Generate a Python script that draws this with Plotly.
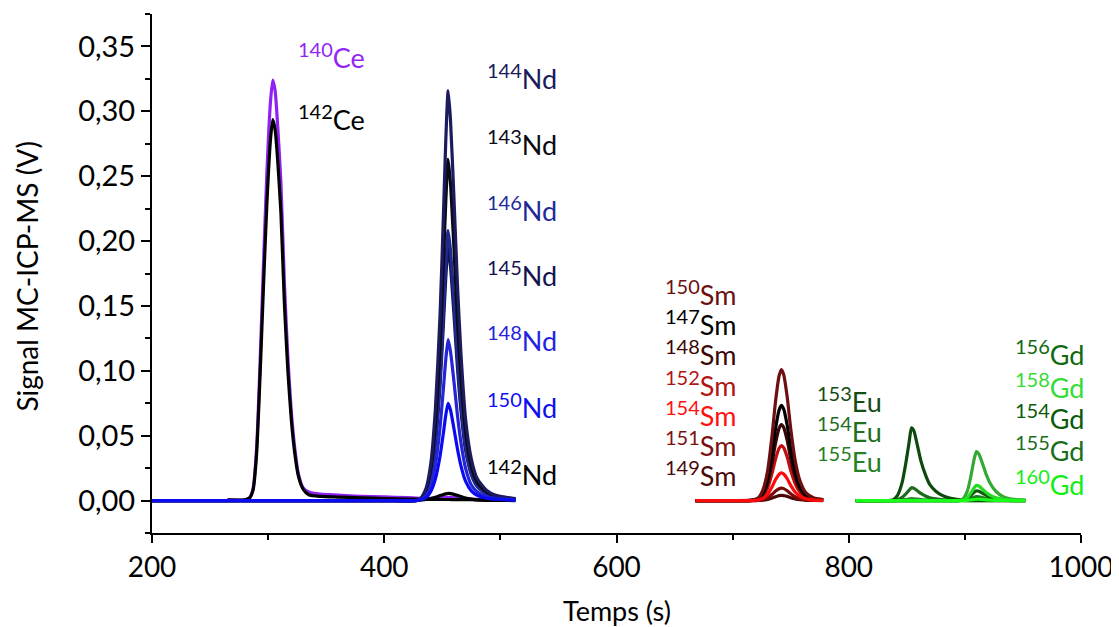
import plotly.graph_objects as go

# ---------------- data ----------------
# Ce group
t_ce = [265, 280, 284, 287, 290, 293, 296, 299, 302, 304, 306, 308, 311, 314, 317, 320, 323, 326, 330,
        335, 345, 360, 380, 400, 420, 432, 440, 448, 455, 462, 470, 480, 495, 513]
ce140 = [0.0005, 0.0006, 0.002, 0.009, 0.039, 0.105, 0.182, 0.254, 0.307, 0.324, 0.316, 0.292, 0.245, 0.168,
         0.11, 0.068, 0.04, 0.021, 0.01, 0.0066, 0.005, 0.0042, 0.0033, 0.0028, 0.0022, 0.0017, 0.0018, 0.0022,
         0.0024, 0.0021, 0.0015, 0.001, 0.0007, 0.0005]
ce142 = [0.0005, 0.0006, 0.002, 0.008, 0.035, 0.095, 0.165, 0.23, 0.278, 0.2936, 0.286, 0.265, 0.222, 0.152,
         0.10, 0.062, 0.036, 0.019, 0.009, 0.0045, 0.0032, 0.0027, 0.0021, 0.0016, 0.0012, 0.001, 0.0009, 0.0008,
         0.0008, 0.0007, 0.0007, 0.0006, 0.0006, 0.0005]

# Nd group
t_nd = [200, 300, 400, 430, 436, 440, 444, 448, 451, 453, 455, 457, 460, 463, 466, 470, 475, 480, 488, 496, 505, 513]
nd144 = [0, 0, 0, 0.0006, 0.0095, 0.028, 0.070, 0.142, 0.221, 0.278, 0.316, 0.294, 0.234, 0.167, 0.114, 0.063,
         0.032, 0.017, 0.008, 0.004, 0.0025, 0.0016]
nd143 = [0, 0, 0, 0.0005, 0.0079, 0.024, 0.058, 0.118, 0.184, 0.231, 0.263, 0.245, 0.195, 0.139, 0.095, 0.053,
         0.026, 0.014, 0.0066, 0.0034, 0.0021, 0.0013]
nd146 = [0, 0, 0, 0.0004, 0.0062, 0.019, 0.046, 0.094, 0.146, 0.183, 0.208, 0.193, 0.154, 0.110, 0.075, 0.042,
         0.021, 0.011, 0.0052, 0.0027, 0.0017, 0.001]
nd145 = [0, 0, 0, 0.0004, 0.0059, 0.018, 0.043, 0.088, 0.137, 0.172, 0.195, 0.181, 0.144, 0.103, 0.070, 0.039,
         0.020, 0.011, 0.0049, 0.0025, 0.0016, 0.001]
nd148 = [0, 0, 0, 0.0002, 0.0037, 0.011, 0.027, 0.056, 0.087, 0.109, 0.124, 0.115, 0.092, 0.066, 0.045, 0.025,
         0.012, 0.0068, 0.0031, 0.0016, 0.001, 0.0006]
nd150 = [0, 0, 0, 0.0002, 0.0023, 0.0068, 0.0165, 0.034, 0.0525, 0.066, 0.075, 0.070, 0.0555, 0.040, 0.027, 0.015,
         0.0075, 0.0041, 0.0019, 0.001, 0.0006, 0.0004]
nd142 = [0, 0, 0, 0.0002, 0.0008, 0.0015, 0.0025, 0.0038, 0.0047, 0.0052, 0.0055, 0.0054, 0.0048, 0.004, 0.0031,
         0.002, 0.0011, 0.0005, 0.0002, 0.0001, 0.0001, 0]

# Sm group
t_sm = [668, 700, 716, 722, 726, 730, 734, 737, 740, 742, 744, 747, 750, 754, 758, 763, 770, 778]
sm150 = [0, 0, 0.0002, 0.002, 0.0081, 0.0222, 0.0505, 0.0768, 0.096, 0.101, 0.097, 0.0798, 0.0556, 0.0303, 0.0152,
         0.0061, 0.002, 0.0008]
sm147 = [0, 0, 0.00015, 0.0015, 0.0059, 0.0161, 0.0367, 0.0558, 0.0697, 0.0734, 0.0705, 0.058, 0.0404, 0.022, 0.011,
         0.0044, 0.0015, 0.0006]
sm148 = [0, 0, 0.0001, 0.0012, 0.0047, 0.0129, 0.0293, 0.0445, 0.0557, 0.0586, 0.0563, 0.0463, 0.0322, 0.0176,
         0.0088, 0.0035, 0.0012, 0.0005]
sm152 = [0, 0, 0.0001, 0.0008, 0.0034, 0.0093, 0.0212, 0.0322, 0.0403, 0.0424, 0.0407, 0.0335, 0.0233, 0.0127,
         0.0064, 0.0025, 0.0008, 0.0003]
sm154 = [0, 0, 0, 0.0004, 0.0017, 0.0047, 0.0107, 0.0162, 0.0202, 0.0213, 0.0204, 0.0168, 0.0117, 0.0064, 0.0032,
         0.0013, 0.0004, 0.0002]
sm151 = [0, 0, 0, 0.0002, 0.0008, 0.0021, 0.0048, 0.0073, 0.0091, 0.0096, 0.0092, 0.0076, 0.0053, 0.0029, 0.0014,
         0.0006, 0.0002, 0.0001]
sm149 = [0, 0, 0, 0.0001, 0.0003, 0.0009, 0.002, 0.003, 0.0038, 0.004, 0.0038, 0.0032, 0.0022, 0.0012, 0.0006,
         0.0002, 0.0001, 0]

# Eu / Gd group
t_eg = [806, 830, 838, 842, 846, 849, 852, 854, 856, 859, 862, 866, 870, 875, 880, 886, 893, 898, 902, 905, 908,
        910, 912, 915, 918, 922, 927, 933, 940, 952]
eu153 = [0, 0, 0.0005, 0.004, 0.014, 0.028, 0.045, 0.056, 0.054, 0.043, 0.031, 0.02, 0.012, 0.0072, 0.0042, 0.0022,
         0.001, 0.0006, 0.0004, 0.0003, 0.0003, 0.0003, 0.0003, 0.0002, 0.0002, 0.0002, 0.0001, 0.0001, 0, 0]
eu154 = [0, 0, 0.0001, 0.0007, 0.0025, 0.005, 0.008, 0.0099, 0.0095, 0.0076, 0.0055, 0.0035, 0.0021, 0.0013, 0.0007,
         0.0004, 0.0002, 0.0001, 0, 0, 0, 0, 0, 0, 0, 0, 0, 0, 0, 0]
eu155 = [0, 0, 0, 0.0001, 0.0004, 0.0008, 0.0012, 0.0015, 0.0014, 0.0011, 0.0008, 0.0005, 0.0003, 0.0002, 0.0001,
         0, 0, 0, 0, 0, 0, 0, 0, 0, 0, 0, 0, 0, 0, 0]
gd156 = [0, 0, 0, 0, 0, 0, 0, 0, 0, 0, 0, 0, 0, 0, 0, 0, 0, 0.001, 0.007, 0.018, 0.032, 0.0377, 0.036, 0.029, 0.021,
         0.013, 0.0068, 0.003, 0.0012, 0.0004]
gd158 = [0, 0, 0, 0, 0, 0, 0, 0, 0, 0, 0, 0, 0, 0, 0, 0, 0, 0.0003, 0.0021, 0.0056, 0.0099, 0.0117, 0.0112, 0.009,
         0.0065, 0.004, 0.0021, 0.0009, 0.0004, 0.0001]
gd154 = [0, 0, 0, 0, 0, 0, 0, 0, 0, 0, 0, 0, 0, 0, 0, 0, 0, 0.0002, 0.0014, 0.0036, 0.0064, 0.0075, 0.0072, 0.0058,
         0.0042, 0.0026, 0.0014, 0.0006, 0.0002, 0.0001]
gd155 = [0, 0, 0, 0, 0, 0, 0, 0, 0, 0, 0, 0, 0, 0, 0, 0, 0, 0.0001, 0.0006, 0.0014, 0.0025, 0.003, 0.0029, 0.0023,
         0.0017, 0.001, 0.0005, 0.0002, 0.0001, 0]
gd160 = [0, 0, 0, 0, 0, 0, 0, 0, 0, 0, 0, 0, 0, 0, 0, 0, 0, 0, 0.0002, 0.0005, 0.0008, 0.001, 0.001, 0.0008, 0.0006,
         0.0003, 0.0002, 0.0001, 0, 0]

x_ticks = [200, 400, 600, 800, 1000]
x_title = "Temps (s)"
y_title = "Signal MC-ICP-MS (V)"

# ---------------- traces (drawing order) ----------------
series = [
    ("140Ce", t_ce, ce140, "#8f22f2"),
    ("142Ce", t_ce, ce142, "#000000"),
    ("142Nd", t_nd, nd142, "#000000"),
    ("145Nd", t_nd, nd145, "#121252"),
    ("146Nd", t_nd, nd146, "#1f2a90"),
    ("143Nd", t_nd, nd143, "#0a0a16"),
    ("144Nd", t_nd, nd144, "#1b1b5e"),
    ("148Nd", t_nd, nd148, "#2424d8"),
    ("150Nd", t_nd, nd150, "#0b0bf2"),
    ("149Sm", t_sm, sm149, "#4d0808"),
    ("151Sm", t_sm, sm151, "#7a0a0a"),
    ("152Sm", t_sm, sm152, "#c01010"),
    ("148Sm", t_sm, sm148, "#3a0505"),
    ("147Sm", t_sm, sm147, "#000000"),
    ("150Sm", t_sm, sm150, "#6e0f0f"),
    ("154Sm", t_sm, sm154, "#ff0a0a"),
    ("155Eu", t_eg, eu155, "#2a8a2a"),
    ("154Eu", t_eg, eu154, "#1c6b1c"),
    ("153Eu", t_eg, eu153, "#0d4a0d"),
    ("155Gd", t_eg, gd155, "#1e7a1e"),
    ("154Gd", t_eg, gd154, "#0f5a0f"),
    ("156Gd", t_eg, gd156, "#34a834"),
    ("158Gd", t_eg, gd158, "#22dd22"),
    ("160Gd", t_eg, gd160, "#1aff1a"),
]

fig = go.Figure()
for name, xs, ys, col in series:
    fig.add_trace(go.Scatter(x=xs, y=ys, mode="lines", name=name,
                             line=dict(color=col, width=3.2, shape="spline", smoothing=0.6),
                             showlegend=False, hoverinfo="skip"))

# ---------------- isotope labels ----------------
lab_text = ["140|Ce", "142|Ce",
            "144|Nd", "143|Nd", "146|Nd", "145|Nd", "148|Nd", "150|Nd", "142|Nd",
            "150|Sm", "147|Sm", "148|Sm", "152|Sm", "154|Sm", "151|Sm", "149|Sm",
            "153|Eu", "154|Eu", "155|Eu",
            "156|Gd", "158|Gd", "154|Gd", "155|Gd", "160|Gd"]
lab_color = ["#9426f5", "#000000",
             "#1b1b5e", "#0a0a16", "#1f2a99", "#141450", "#2424e0", "#0f0ff0", "#000000",
             "#6b1010", "#000000", "#3b0606", "#b01515", "#ff1010", "#7b1010", "#4a0a0a",
             "#134d13", "#1f6f1f", "#248024",
             "#0e6a0e", "#33dd33", "#0a5a0a", "#1a6e1a", "#11ee11"]
lab_x = [325, 325,
         488, 488, 488, 488, 488, 488, 488,
         641, 641, 641, 641, 641, 641, 641,
         772, 772, 772,
         942.5, 942.5, 942.5, 942.5, 942.5]
lab_y = [0.343, 0.295,
         0.327, 0.276, 0.225, 0.175, 0.125, 0.073, 0.022,
         0.160, 0.137, 0.114, 0.090, 0.067, 0.044, 0.021,
         0.078, 0.055, 0.032,
         0.114, 0.089, 0.065, 0.040, 0.014]

for txt, col, lx, ly in zip(lab_text, lab_color, lab_x, lab_y):
    mass, el = txt.split("|")
    fig.add_annotation(x=lx, y=ly, xref="x", yref="y", xanchor="left", yanchor="middle",
                       text=f"<sup><span style='font-size:20px'>{mass}</span></sup>{el}",
                       showarrow=False, borderpad=0,
                       font=dict(family="Lato", size=27, color=col))

# axis titles
fig.add_annotation(x=0.5, y=-0.15, xref="paper", yref="paper", text=x_title, showarrow=False,
                   xanchor="center", yanchor="middle", font=dict(family="Lato", size=27, color="#000"))
fig.add_annotation(x=-0.134, y=0.495, xref="paper", yref="paper", text=y_title, showarrow=False,
                   textangle=-90, xanchor="center", yanchor="middle",
                   font=dict(family="Lato", size=28, color="#000"))

# page body has an 8 px margin: figure is shifted by 8 px, sizes compensate
fig.update_layout(
    width=1111, height=619,
    margin=dict(l=144, r=26, t=6, b=94),
    paper_bgcolor="white", plot_bgcolor="white",
    separators=", ",
    font=dict(family="Lato", size=28, color="#000"),
)
fig.update_xaxes(range=[200, 1000], tickvals=x_ticks, ticktext=[str(v) for v in x_ticks],
                 ticklabeloverflow="allow",
                 showgrid=False, zeroline=False, showline=True, linecolor="#000", linewidth=2,
                 ticks="outside", ticklen=8, tickwidth=2, tickcolor="#000",
                 minor=dict(tickvals=[300, 500, 700, 900], ticks="outside", ticklen=5, tickwidth=2,
                            tickcolor="#000", showgrid=False),
                 tickfont=dict(family="Lato", size=28))
fig.update_yaxes(range=[-0.025, 0.375], tickvals=[0, 0.05, 0.1, 0.15, 0.2, 0.25, 0.3, 0.35],
                 tickformat=".2f",
                 showgrid=False, zeroline=False, showline=True, linecolor="#000", linewidth=2,
                 ticks="outside", ticklen=9, tickwidth=2, tickcolor="#000",
                 minor=dict(tickvals=[-0.025, 0.025, 0.075, 0.125, 0.175, 0.225, 0.275, 0.325, 0.375],
                            ticks="outside", ticklen=5, tickwidth=2, tickcolor="#000", showgrid=False),
                 tickfont=dict(family="Lato", size=29))

fig.write_html("out.html")
